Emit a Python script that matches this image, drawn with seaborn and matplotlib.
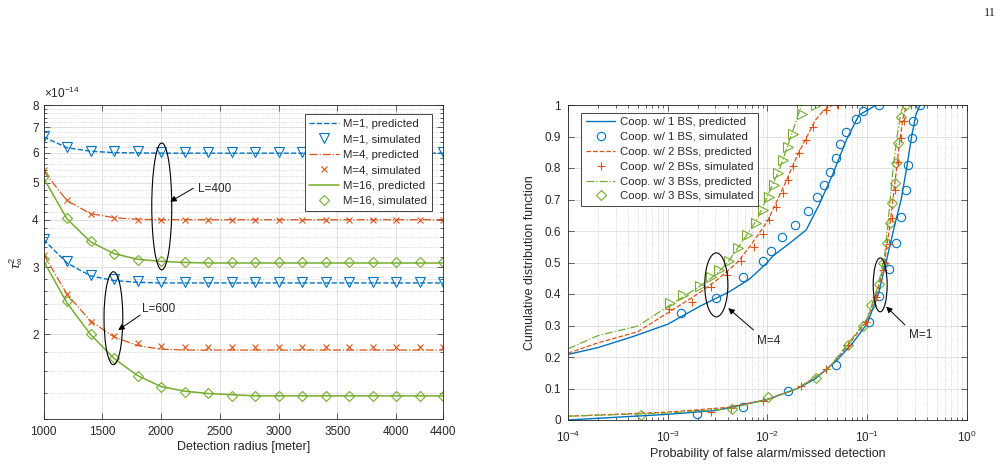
import numpy as np
import matplotlib
matplotlib.use("Agg")
import matplotlib.pyplot as plt
import seaborn as sns
from matplotlib.patches import Ellipse
from matplotlib.ticker import FixedLocator, NullFormatter, LogLocator, FixedFormatter

# ---------------- data: left panel (values in units of 1e-14) ----------------
radius = [1000, 1200, 1400, 1600, 1800, 2000, 2200, 2400, 2600, 2800, 3000,
          3200, 3400, 3600, 3800, 4000, 4200, 4400]
L400_M1_pred = [6.60, 6.18, 6.05, 6.00, 5.99, 5.98, 5.98, 5.98, 5.98, 5.98, 5.98, 5.98, 5.98, 5.98, 5.98, 5.98, 5.98, 5.98]
L400_M1_sim = [6.65, 6.20, 6.06, 6.05, 6.05, 6.04, 6.02, 6.02, 6.02, 6.02, 6.02, 6.01, 6.01, 6.01, 6.01, 6.01, 6.01, 6.01]
L400_M4_pred = [5.37, 4.49, 4.15, 4.05, 4.01, 4.00, 4.00, 4.00, 4.00, 4.00, 4.00, 4.00, 4.00, 4.00, 4.00, 4.00, 4.00, 4.00]
L400_M4_sim = [5.40, 4.50, 4.15, 4.05, 4.00, 4.00, 4.00, 4.00, 4.00, 4.00, 4.00, 4.00, 4.00, 4.00, 4.00, 4.00, 4.00, 4.00]
L400_M16_pred = [5.15, 4.02, 3.50, 3.26, 3.15, 3.11, 3.09, 3.08, 3.08, 3.08, 3.08, 3.08, 3.08, 3.08, 3.08, 3.08, 3.08, 3.08]
L400_M16_sim = [5.21, 4.05, 3.51, 3.26, 3.14, 3.12, 3.10, 3.10, 3.10, 3.10, 3.10, 3.10, 3.10, 3.10, 3.10, 3.10, 3.10, 3.10]
L600_M1_pred = [3.55, 3.08, 2.85, 2.77, 2.74, 2.73, 2.73, 2.73, 2.73, 2.73, 2.73, 2.73, 2.73, 2.73, 2.73, 2.73, 2.73, 2.73]
L600_M1_sim = [3.55, 3.12, 2.87, 2.80, 2.76, 2.75, 2.75, 2.75, 2.75, 2.75, 2.75, 2.75, 2.75, 2.75, 2.75, 2.75, 2.75, 2.75]
L600_M4_pred = [3.25, 2.55, 2.17, 1.97, 1.87, 1.83, 1.82, 1.82, 1.82, 1.82, 1.82, 1.82, 1.82, 1.82, 1.82, 1.82, 1.82, 1.82]
L600_M4_sim = [3.23, 2.55, 2.16, 1.98, 1.90, 1.87, 1.85, 1.85, 1.85, 1.85, 1.85, 1.85, 1.85, 1.85, 1.85, 1.85, 1.85, 1.85]
L600_M16_pred = [3.12, 2.42, 2.00, 1.73, 1.56, 1.46, 1.42, 1.40, 1.39, 1.38, 1.38, 1.38, 1.38, 1.38, 1.38, 1.38, 1.38, 1.38]
L600_M16_sim = [3.15, 2.45, 2.00, 1.73, 1.56, 1.46, 1.41, 1.40, 1.38, 1.38, 1.38, 1.38, 1.38, 1.38, 1.38, 1.38, 1.38, 1.38]
left_yticks = [2, 3, 4, 5, 6, 7, 8]
left_xticks = [1000, 1500, 2000, 2500, 3000, 3500, 4000, 4400]

# ---------------- data: right panel ----------------
M4_b_pred_x = [1e-4, 2e-4, 4.4e-4, 1e-3, 2.07e-3, 4.15e-3, 6.6e-3, 1e-2, 1.13e-2, 1.67e-2, 2.45e-2, 3.3e-2, 4.5e-2, 6.2e-2, 8.3e-2, 0.124]
M4_b_pred_y = [0.208, 0.23, 0.264, 0.304, 0.36, 0.407, 0.447, 0.5, 0.52, 0.561, 0.603, 0.683, 0.778, 0.889, 0.968, 1.0]
M4_r_pred_x = [1e-4, 2e-4, 5e-4, 1e-3, 2e-3, 3e-3, 5e-3, 7e-3, 1e-2, 1.5e-2, 2e-2, 2.5e-2, 3e-2, 3.6e-2, 4.5e-2]
M4_r_pred_y = [0.212, 0.245, 0.28, 0.34, 0.40, 0.44, 0.50, 0.56, 0.63, 0.75, 0.84, 0.90, 0.95, 0.98, 1.0]
M4_g_pred_x = [1e-4, 2e-4, 5e-4, 1e-3, 2e-3, 3e-3, 4e-3, 6e-3, 8e-3, 1e-2, 1.3e-2, 1.6e-2, 1.9e-2, 2.2e-2]
M4_g_pred_y = [0.226, 0.268, 0.298, 0.36, 0.42, 0.46, 0.50, 0.58, 0.64, 0.71, 0.79, 0.87, 0.94, 1.0]
M4_b_sim_x = [1.36e-3, 3.05e-3, 5.74e-3, 9.0e-3, 1.09e-2, 1.41e-2, 1.91e-2, 2.56e-2, 3.13e-2, 3.74e-2, 4.3e-2, 4.9e-2, 5.3e-2, 6.1e-2, 7.8e-2, 9.2e-2, 0.133]
M4_b_sim_y = [0.339, 0.388, 0.455, 0.505, 0.537, 0.58, 0.62, 0.664, 0.707, 0.746, 0.788, 0.832, 0.875, 0.914, 0.955, 0.982, 1.0]
M4_r_sim_x = [1.03e-3, 1.75e-3, 2.7e-3, 3.98e-3, 5.5e-3, 7.3e-3, 9.0e-3, 1.04e-2, 1.23e-2, 1.44e-2, 1.6e-2, 1.82e-2, 2.1e-2, 2.45e-2, 2.9e-2, 3.9e-2, 5.1e-2]
M4_r_sim_y = [0.351, 0.376, 0.423, 0.46, 0.506, 0.55, 0.59, 0.635, 0.675, 0.72, 0.762, 0.806, 0.849, 0.889, 0.931, 0.984, 1.0]
M4_g_sim_x = [1.06e-3, 1.44e-3, 2.1e-3, 2.7e-3, 3.3e-3, 4.1e-3, 5.1e-3, 6.3e-3, 7.7e-3, 9.0e-3, 1.04e-2, 1.17e-2, 1.29e-2, 1.44e-2, 1.6e-2, 1.8e-2, 2.25e-2, 3.1e-2]
M4_g_sim_y = [0.372, 0.397, 0.426, 0.453, 0.477, 0.505, 0.545, 0.587, 0.626, 0.667, 0.707, 0.746, 0.783, 0.825, 0.866, 0.908, 0.97, 1.0]

M1_b_pred_x = [1e-4, 1e-3, 3e-3, 1e-2, 2e-2, 3e-2, 5e-2, 7e-2, 0.1, 0.13, 0.155, 0.19, 0.22, 0.25, 0.28, 0.31, 0.34]
M1_b_pred_y = [0.0, 0.018, 0.03, 0.065, 0.10, 0.13, 0.19, 0.24, 0.305, 0.40, 0.50, 0.62, 0.70, 0.80, 0.90, 0.97, 1.0]
M1_r_pred_x = [1e-4, 1e-3, 4e-3, 1e-2, 2e-2, 4e-2, 6e-2, 0.1, 0.13, 0.15, 0.17, 0.19, 0.21, 0.23, 0.25]
M1_r_pred_y = [0.012, 0.025, 0.04, 0.065, 0.10, 0.16, 0.225, 0.315, 0.42, 0.50, 0.62, 0.75, 0.87, 0.96, 1.0]
M1_g_pred_x = [1e-4, 1e-3, 4e-3, 1e-2, 2e-2, 4e-2, 6e-2, 0.1, 0.13, 0.15, 0.165, 0.18, 0.20, 0.22, 0.235]
M1_g_pred_y = [0.012, 0.022, 0.035, 0.065, 0.10, 0.16, 0.23, 0.32, 0.43, 0.52, 0.65, 0.78, 0.90, 0.98, 1.0]
M1_b_sim_x = [1.99e-3, 5.7e-3, 1.6e-2, 4.9e-2, 0.104, 0.133, 0.167, 0.194, 0.22, 0.245, 0.26, 0.28, 0.29, 0.342]
M1_b_sim_y = [0.019, 0.042, 0.093, 0.175, 0.31, 0.394, 0.48, 0.561, 0.645, 0.73, 0.81, 0.894, 0.95, 1.0]
M1_r_sim_x = [2.75e-3, 4.3e-3, 9.0e-3, 2.2e-2, 3.9e-2, 6.4e-2, 0.098, 0.124, 0.143, 0.152, 0.165, 0.178, 0.19, 0.205, 0.22, 0.235, 0.275]
M1_r_sim_y = [0.026, 0.037, 0.06, 0.109, 0.161, 0.238, 0.312, 0.391, 0.476, 0.50, 0.56, 0.64, 0.73, 0.82, 0.894, 0.95, 1.0]
M1_g_sim_x = [5.4e-4, 4.4e-3, 1.02e-2, 3.1e-2, 6.4e-2, 9.1e-2, 0.11, 0.131, 0.143, 0.157, 0.17, 0.18, 0.19, 0.195, 0.205, 0.22, 0.244]
M1_g_sim_y = [0.016, 0.034, 0.074, 0.132, 0.238, 0.30, 0.365, 0.432, 0.50, 0.561, 0.624, 0.688, 0.751, 0.817, 0.88, 0.963, 1.0]
right_yticks = [0, 0.1, 0.2, 0.3, 0.4, 0.5, 0.6, 0.7, 0.8, 0.9, 1]

# ---------------- style ----------------
sns.set_style("ticks")
plt.rcParams["font.family"] = ["Liberation Sans", "DejaVu Sans"]
plt.rcParams["mathtext.fontset"] = "custom"
plt.rcParams["mathtext.rm"] = "Liberation Sans"
plt.rcParams["mathtext.it"] = "Liberation Sans:italic"
plt.rcParams["mathtext.bf"] = "Liberation Sans:bold"

BLUE = "#0072BD"
RED = "#D95319"
GREEN = "#77AC30"
AXC = "#262626"
FS = 8.5

fig = plt.figure(figsize=(10.07, 4.76), dpi=100)
axL = fig.add_axes([43.5 / 1007, 57 / 476, 399.5 / 1007, 314 / 476])
axR = fig.add_axes([568 / 1007, 56 / 476, 398.7 / 1007, 315 / 476])


def line(ax, x, y, color, ls, label=None, lw=1.0):
    sns.lineplot(x=x, y=y, ax=ax, color=color, linestyle=ls, linewidth=lw,
                 sort=False, estimator=None, label=label if label else "_nolegend_",
                 legend=False)


def marks(ax, x, y, color, marker, ms, label=None):
    sns.lineplot(x=x, y=y, ax=ax, color=color, linestyle="", marker=marker,
                 markersize=ms, markerfacecolor="none", markeredgecolor=color,
                 markeredgewidth=0.8, sort=False, estimator=None,
                 label=label if label else "_nolegend_", legend=False)


def style_axes(ax):
    for s in ax.spines.values():
        s.set_visible(True)
        s.set_color(AXC)
        s.set_linewidth(0.6)
    ax.tick_params(which="both", direction="in", top=True, right=True,
                   colors=AXC, labelsize=FS, width=0.5)
    ax.tick_params(which="major", length=4)
    ax.tick_params(which="minor", length=2.5)
    ax.grid(True, which="major", color="#dcdcdc", linestyle="-", linewidth=0.6)
    ax.grid(True, which="minor", color="#c8c8c8", linestyle=":", linewidth=0.6)
    ax.set_axisbelow(True)


# ---------------- left panel ----------------
axL.set_yscale("log")
line(axL, radius, L400_M1_pred, BLUE, "--", "M=1, predicted")
marks(axL, radius, L400_M1_sim, BLUE, "v", 6.5, "M=1, simulated")
line(axL, radius, L400_M4_pred, RED, "-.", "M=4, predicted", lw=0.9)
marks(axL, radius, L400_M4_sim, RED, "x", 4.5, "M=4, simulated")
line(axL, radius, L400_M16_pred, GREEN, "-", "M=16, predicted", lw=1.1)
marks(axL, radius, L400_M16_sim, GREEN, "D", 5.0, "M=16, simulated")
line(axL, radius, L600_M1_pred, BLUE, "--")
marks(axL, radius, L600_M1_sim, BLUE, "v", 6.5)
line(axL, radius, L600_M4_pred, RED, "-.", lw=0.9)
marks(axL, radius, L600_M4_sim, RED, "x", 4.5)
line(axL, radius, L600_M16_pred, GREEN, "-", lw=1.1)
marks(axL, radius, L600_M16_sim, GREEN, "D", 5.0)

axL.set_xlim(1000, 4400)
axL.set_ylim(1.2, 8)
axL.xaxis.set_major_locator(FixedLocator(left_xticks))
axL.xaxis.set_major_formatter(FixedFormatter([str(t) for t in left_xticks]))
axL.yaxis.set_major_locator(FixedLocator(left_yticks))
axL.yaxis.set_major_formatter(FixedFormatter([str(t) for t in left_yticks]))
minorL = [v / 10 for v in range(12, 81, 2) if v % 10 != 0]
axL.yaxis.set_minor_locator(FixedLocator(minorL))
axL.yaxis.set_minor_formatter(NullFormatter())
axL.xaxis.set_minor_locator(FixedLocator([]))
style_axes(axL)
axL.grid(False, which="minor", axis="x")
axL.tick_params(axis="x", pad=5)
axL.set_xlabel("Detection radius [meter]", fontsize=FS + 0.5, color=AXC, labelpad=2)
axL.set_ylabel(r"$\tau^2_\infty$", fontsize=FS + 1, color=AXC, labelpad=6)
axL.text(0.0, 1.012, r"$\times10^{-14}$", transform=axL.transAxes, fontsize=FS,
         color=AXC, ha="left", va="bottom")

h, l = axL.get_legend_handles_labels()
legL = axL.legend(h, l, loc="upper right", bbox_to_anchor=(0.972, 0.971),
                  borderaxespad=0, fontsize=FS - 0.3, frameon=True, fancybox=False,
                  framealpha=1, edgecolor=AXC, handlelength=2.6, labelspacing=0.48,
                  borderpad=0.4, handletextpad=0.4)
legL.get_frame().set_linewidth(0.6)
legL.set_zorder(10)

# annotations left
axL.add_patch(Ellipse((0.296, 0.677), 0.05, 0.404, transform=axL.transAxes,
                      fill=False, edgecolor="k", linewidth=0.8, zorder=6))
axL.add_patch(Ellipse((0.175, 0.321), 0.047, 0.296, transform=axL.transAxes,
                      fill=False, edgecolor="k", linewidth=0.8, zorder=6))
arrow = dict(arrowstyle="-|>", color="k", lw=0.7, mutation_scale=9, shrinkA=0, shrinkB=0)
axL.annotate("", xy=(0.317, 0.692), xytext=(0.375, 0.735), xycoords="axes fraction",
             textcoords="axes fraction", arrowprops=arrow, zorder=7)
axL.text(0.387, 0.732, "L=400", transform=axL.transAxes, fontsize=FS, va="center", ha="left")
axL.annotate("", xy=(0.187, 0.283), xytext=(0.242, 0.331), xycoords="axes fraction",
             textcoords="axes fraction", arrowprops=arrow, zorder=7)
axL.text(0.247, 0.350, "L=600", transform=axL.transAxes, fontsize=FS, va="center", ha="left")

# ---------------- right panel ----------------
axR.set_xscale("log")
line(axR, M4_b_pred_x, M4_b_pred_y, BLUE, "-", "Coop. w/ 1 BS, predicted")
marks(axR, M4_b_sim_x, M4_b_sim_y, BLUE, "o", 6.0, "Coop. w/ 1 BS, simulated")
line(axR, M4_r_pred_x, M4_r_pred_y, RED, "--", "Coop. w/ 2 BSs, predicted", lw=0.9)
marks(axR, M4_r_sim_x, M4_r_sim_y, RED, "+", 6.0, "Coop. w/ 2 BSs, simulated")
line(axR, M4_g_pred_x, M4_g_pred_y, GREEN, "-.", "Coop. w/ 3 BSs, predicted", lw=0.9)
marks(axR, M1_g_sim_x, M1_g_sim_y, GREEN, "D", 5.0, "Coop. w/ 3 BSs, simulated")
marks(axR, M4_g_sim_x, M4_g_sim_y, GREEN, ">", 6.5)
line(axR, M1_b_pred_x, M1_b_pred_y, BLUE, "-")
marks(axR, M1_b_sim_x, M1_b_sim_y, BLUE, "o", 6.0)
line(axR, M1_r_pred_x, M1_r_pred_y, RED, "--", lw=0.9)
marks(axR, M1_r_sim_x, M1_r_sim_y, RED, "+", 6.0)
line(axR, M1_g_pred_x, M1_g_pred_y, GREEN, "-.", lw=0.9)

axR.set_xlim(1e-4, 1)
axR.set_ylim(0, 1)
axR.xaxis.set_major_locator(LogLocator(base=10, numticks=10))
axR.xaxis.set_minor_locator(LogLocator(base=10, subs=np.arange(2, 10), numticks=20))
axR.xaxis.set_minor_formatter(NullFormatter())
axR.yaxis.set_major_locator(FixedLocator(right_yticks))
axR.yaxis.set_major_formatter(FixedFormatter([("%g" % t) for t in right_yticks]))
style_axes(axR)
axR.tick_params(axis="x", pad=7)
axR.tick_params(axis="y", pad=5)
axR.set_xlabel("Probability of false alarm/missed detection", fontsize=FS + 0.5,
               color=AXC, labelpad=2)
axR.set_ylabel("Cumulative distribution function", fontsize=FS + 0.5, color=AXC, labelpad=6)

h, l = axR.get_legend_handles_labels()
legR = axR.legend(h, l, loc="upper left", bbox_to_anchor=(0.033, 0.975),
                  borderaxespad=0, fontsize=FS - 0.3, frameon=True, fancybox=False,
                  framealpha=1, edgecolor=AXC, handlelength=2.6, labelspacing=0.42,
                  borderpad=0.4, handletextpad=0.4)
legR.get_frame().set_linewidth(0.6)
legR.set_zorder(10)

axR.add_patch(Ellipse((0.372, 0.429), 0.058, 0.203, transform=axR.transAxes,
                      fill=False, edgecolor="k", linewidth=0.8, zorder=6))
axR.add_patch(Ellipse((0.783, 0.429), 0.035, 0.171, transform=axR.transAxes,
                      fill=False, edgecolor="k", linewidth=0.8, zorder=6))
axR.annotate("", xy=(0.402, 0.355), xytext=(0.465, 0.286), xycoords="axes fraction",
             textcoords="axes fraction", arrowprops=arrow, zorder=7)
axR.text(0.474, 0.251, "M=4", transform=axR.transAxes, fontsize=FS, va="center", ha="left")
axR.annotate("", xy=(0.798, 0.36), xytext=(0.845, 0.302), xycoords="axes fraction",
             textcoords="axes fraction", arrowprops=arrow, zorder=7)
axR.text(0.855, 0.27, "M=1", transform=axR.transAxes, fontsize=FS, va="center", ha="left")

# page number
fig.text(990 / 1007, 1 - 13 / 476, "11", fontsize=9, family=["Liberation Serif", "DejaVu Serif"],
         ha="center", va="center", color="#222222")

fig.savefig("out.png", dpi=100)
